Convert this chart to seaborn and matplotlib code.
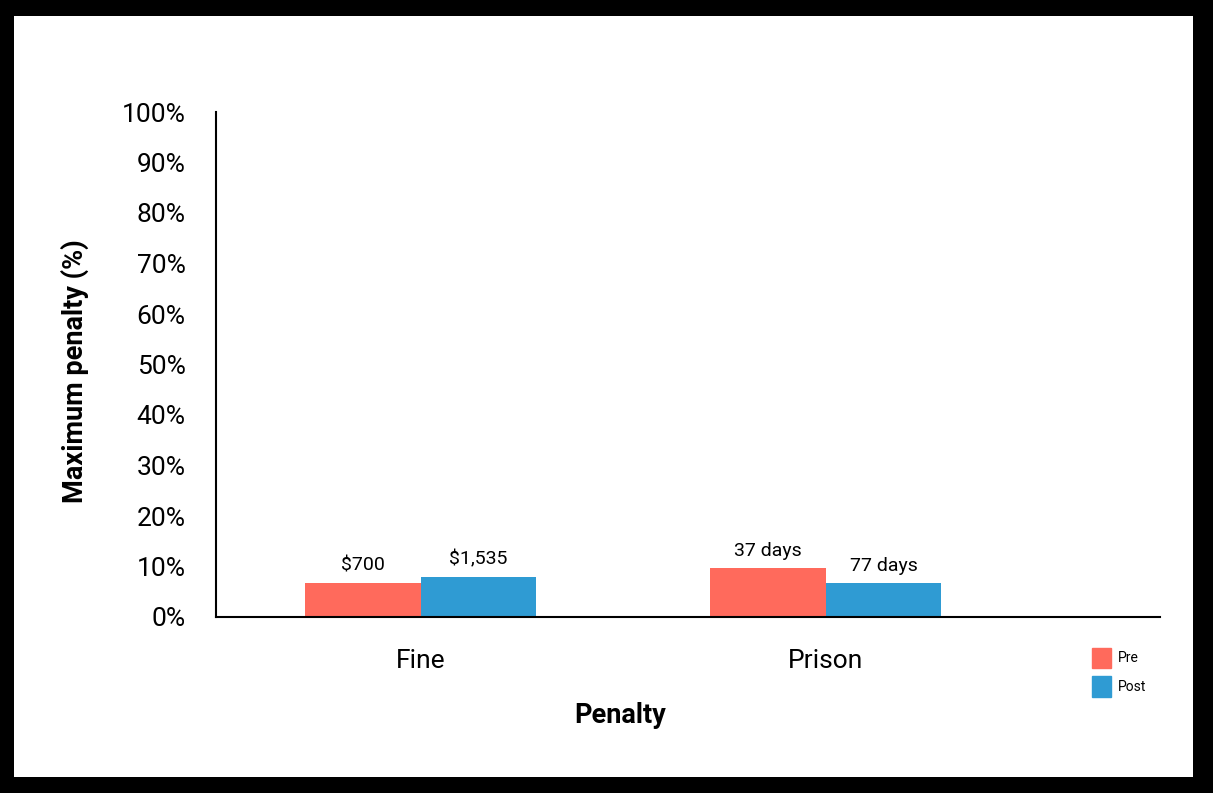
import pandas as pd
import matplotlib.pyplot as plt
import matplotlib.patches as mpatches
import seaborn as sns

penalty = ['Fine', 'Prison']
pre = [6.7, 9.7]
post = [7.9, 6.7]
pre_labels = ['$700', '37 days']
post_labels = ['$1,535', '77 days']

df = pd.DataFrame({
    'Penalty': penalty * 2,
    'value': pre + post,
    'period': ['Pre'] * 2 + ['Post'] * 2,
})

sns.set_style('white')
plt.rcParams['font.family'] = ['Roboto', 'DejaVu Sans']
plt.rcParams['text.color'] = 'black'
plt.rcParams['axes.labelcolor'] = 'black'

fig = plt.figure(figsize=(12.13, 7.93), dpi=100, facecolor='black')
# white panel inside the black frame
fig.patches.append(mpatches.Rectangle((14 / 1213, 16 / 793), 1179 / 1213, 761 / 793,
                                      transform=fig.transFigure, facecolor='white',
                                      edgecolor='none', zorder=-10))
ax = fig.add_axes([216 / 1213, 1 - 617 / 793, 944 / 1213, 505 / 793])
ax.set_facecolor('white')
ax.set_zorder(5)

sns.barplot(data=df, x='Penalty', y='value', hue='period',
            palette={'Pre': '#FF6A5C', 'Post': '#2F9BD3'},
            width=0.57, gap=0, saturation=1, linewidth=0, ax=ax, legend=False)

for cont, labs in zip(ax.containers, [pre_labels, post_labels]):
    ax.bar_label(cont, labels=labs, padding=6, fontsize=14, color='black')

ax.set_ylim(0, 100)
ax.set_xlim(-0.506, 1.825)
ax.set_yticks(range(0, 101, 10))
ax.set_yticklabels(['{}%'.format(v) for v in range(0, 101, 10)])
ax.tick_params(axis='both', length=0, labelsize=19, colors='black')
ax.tick_params(axis='x', pad=23)
ax.tick_params(axis='y', pad=22)
for side in ['top', 'right']:
    ax.spines[side].set_visible(False)
for side in ['left', 'bottom']:
    ax.spines[side].set_color('black')
    ax.spines[side].set_linewidth(1.5)

ax.set_xlabel('Penalty', fontsize=19.5, fontweight='bold')
ax.xaxis.set_label_coords((620 - 216) / 944, -(702 - 617) / 505)
ax.set_ylabel('Maximum penalty (%)', fontsize=19.5, fontweight='bold')
ax.yaxis.set_label_coords(-(216 - 89) / 944, (617 - 371) / 505)

handles = [mpatches.Patch(color='#FF6A5C', label='Pre'),
           mpatches.Patch(color='#2F9BD3', label='Post')]
leg = fig.legend(handles=handles, loc='upper left', bbox_to_anchor=(1079 / 1213, 1 - 635 / 793),
                 frameon=False, fontsize=10, handlelength=1.4, handleheight=1.9,
                 handletextpad=0.5, labelspacing=0.6)
leg.set_zorder(6)

fig.savefig('out.png', dpi=100, facecolor='black')
